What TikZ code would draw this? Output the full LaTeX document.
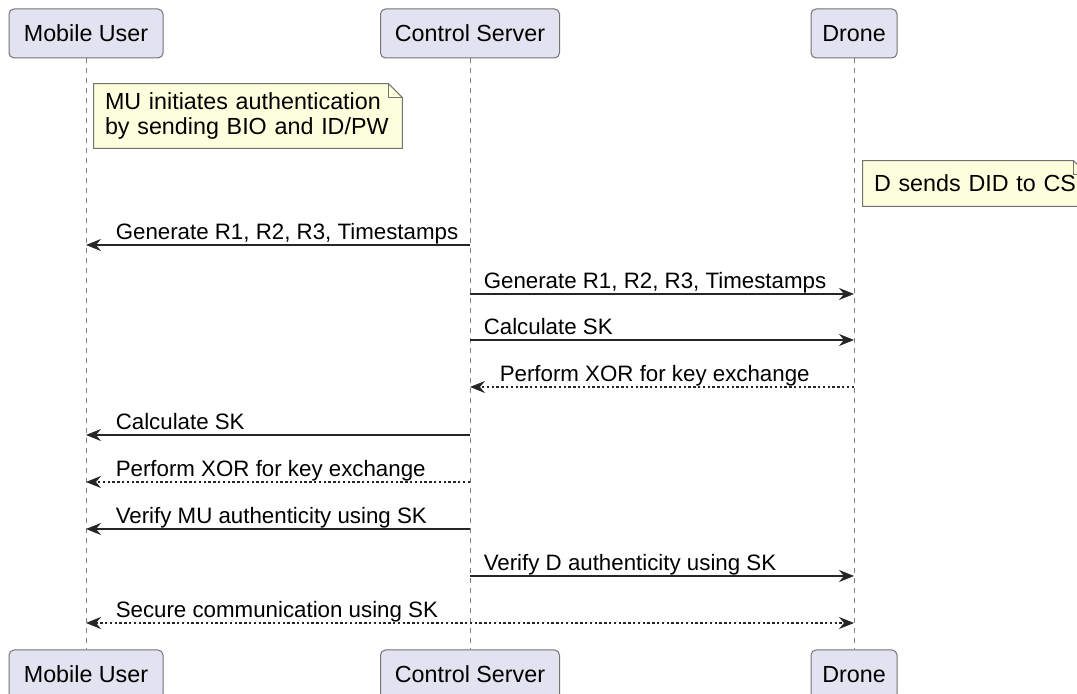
\documentclass[tikz,border=0pt]{standalone}
\usepackage{fontspec}
\setmainfont{Liberation Sans}
\usetikzlibrary{arrows.meta,backgrounds}
\definecolor{partfill}{RGB}{226,226,240}
\definecolor{notefill}{RGB}{254,255,221}
\definecolor{edgegray}{RGB}{115,115,115}
\begin{document}
\begin{tikzpicture}[x=0.5pt, y=-0.5pt, >={Stealth[length=7.5pt, width=6pt, inset=2.5pt]},
	every node/.style={font=\fontsize{11.15}{13.4}\selectfont},
	part/.style={draw=edgegray, line width=0.5pt, fill=partfill, rounded corners=2.5pt, minimum height=24.5pt, inner sep=0pt, font=\fontsize{11.65}{14}\selectfont},
	life/.style={draw=gray, line width=0.5pt, dash pattern=on 2.5pt off 2.5pt},
	msg/.style={draw=black!85, line width=0.75pt, ->},
	reply/.style={msg, dash pattern=on 1.2pt off 1.2pt},
	tipside/.style={anchor=base west, inner sep=0pt, xshift=14.5pt, yshift=2.5pt},
	tailside/.style={anchor=base west, inner sep=0pt, xshift=6.5pt, yshift=2.5pt},
	notetxt/.style={inner xsep=5.5pt, inner ysep=0pt, align=left, font=\fontsize{11.65}{12.5}\selectfont},
	notebox/.style={draw=edgegray, line width=0.5pt, fill=notefill}]
	\useasboundingbox (0,0) rectangle (1077,694);
	\clip (0,0) rectangle (1077,694);
	\begin{scope}[on background layer]
		\fill[white] (0,0) rectangle (1077,694);
	\end{scope}
	\node[part, minimum width=77pt] (mu) at (86,33.5) {Mobile User};
	\node[part, minimum width=89.5pt] (cs) at (470,33.5) {Control Server};
	\node[part, minimum width=43pt] (dr) at (854,33.5) {Drone};
	\node[part, minimum width=77pt] (mub) at (86,674.5) {Mobile User};
	\node[part, minimum width=89.5pt] (csb) at (470,674.5) {Control Server};
	\node[part, minimum width=43pt] (drb) at (854,674.5) {Drone};
	\foreach \a/\b in {mu/mub, cs/csb, dr/drb}
		\draw[life] (\a) -- (\b);
	\node[notetxt, text width=143pt, minimum height=32pt] (note1) at (248,116) {MU initiates authentication\\by sending BIO and ID/PW};
	\node[notetxt, text width=101pt, minimum height=22.5pt] (note2) at (975,183.5) {\mbox{D sends DID to CS}};
	\begin{scope}[on background layer]
		\foreach \n in {note1, note2} {
			\draw[notebox] (\n.north west) -- ([xshift=-7pt]\n.north east) -- ([yshift=-7pt]\n.north east) -- (\n.south east) -- (\n.south west) -- cycle;
			\draw[draw=edgegray, line width=0.5pt] ([xshift=-7pt]\n.north east) |- ([yshift=-7pt]\n.north east);
		}
	\end{scope}
	\foreach \r/\y in {1/245, 2/294, 3/340, 4/387, 5/435, 6/482, 7/529, 8/576, 9/623} {
		\coordinate (mu\r) at (mu |- 0,\y);
		\coordinate (cs\r) at (cs |- 0,\y);
		\coordinate (dr\r) at (dr |- 0,\y);
	}
	\draw[msg] (cs1) -- (mu1) node[tipside, pos=1] {Generate R1, R2, R3, Timestamps};
	\draw[msg] (cs2) -- (dr2) node[tailside, pos=0] {Generate R1, R2, R3, Timestamps};
	\draw[msg] (cs3) -- (dr3) node[tailside, pos=0] {Calculate SK};
	\draw[reply] (dr4) -- (cs4) node[tipside, pos=1] {Perform XOR for key exchange};
	\draw[msg] (cs5) -- (mu5) node[tipside, pos=1] {Calculate SK};
	\draw[reply] (cs6) -- (mu6) node[tipside, pos=1] {Perform XOR for key exchange};
	\draw[msg] (cs7) -- (mu7) node[tipside, pos=1] {Verify MU authenticity using SK};
	\draw[msg] (cs8) -- (dr8) node[tailside, pos=0] {Verify D authenticity using SK};
	\draw[reply, <->] (mu9) -- (dr9) node[tipside, pos=0] {Secure communication using SK};
\end{tikzpicture}
\end{document}
